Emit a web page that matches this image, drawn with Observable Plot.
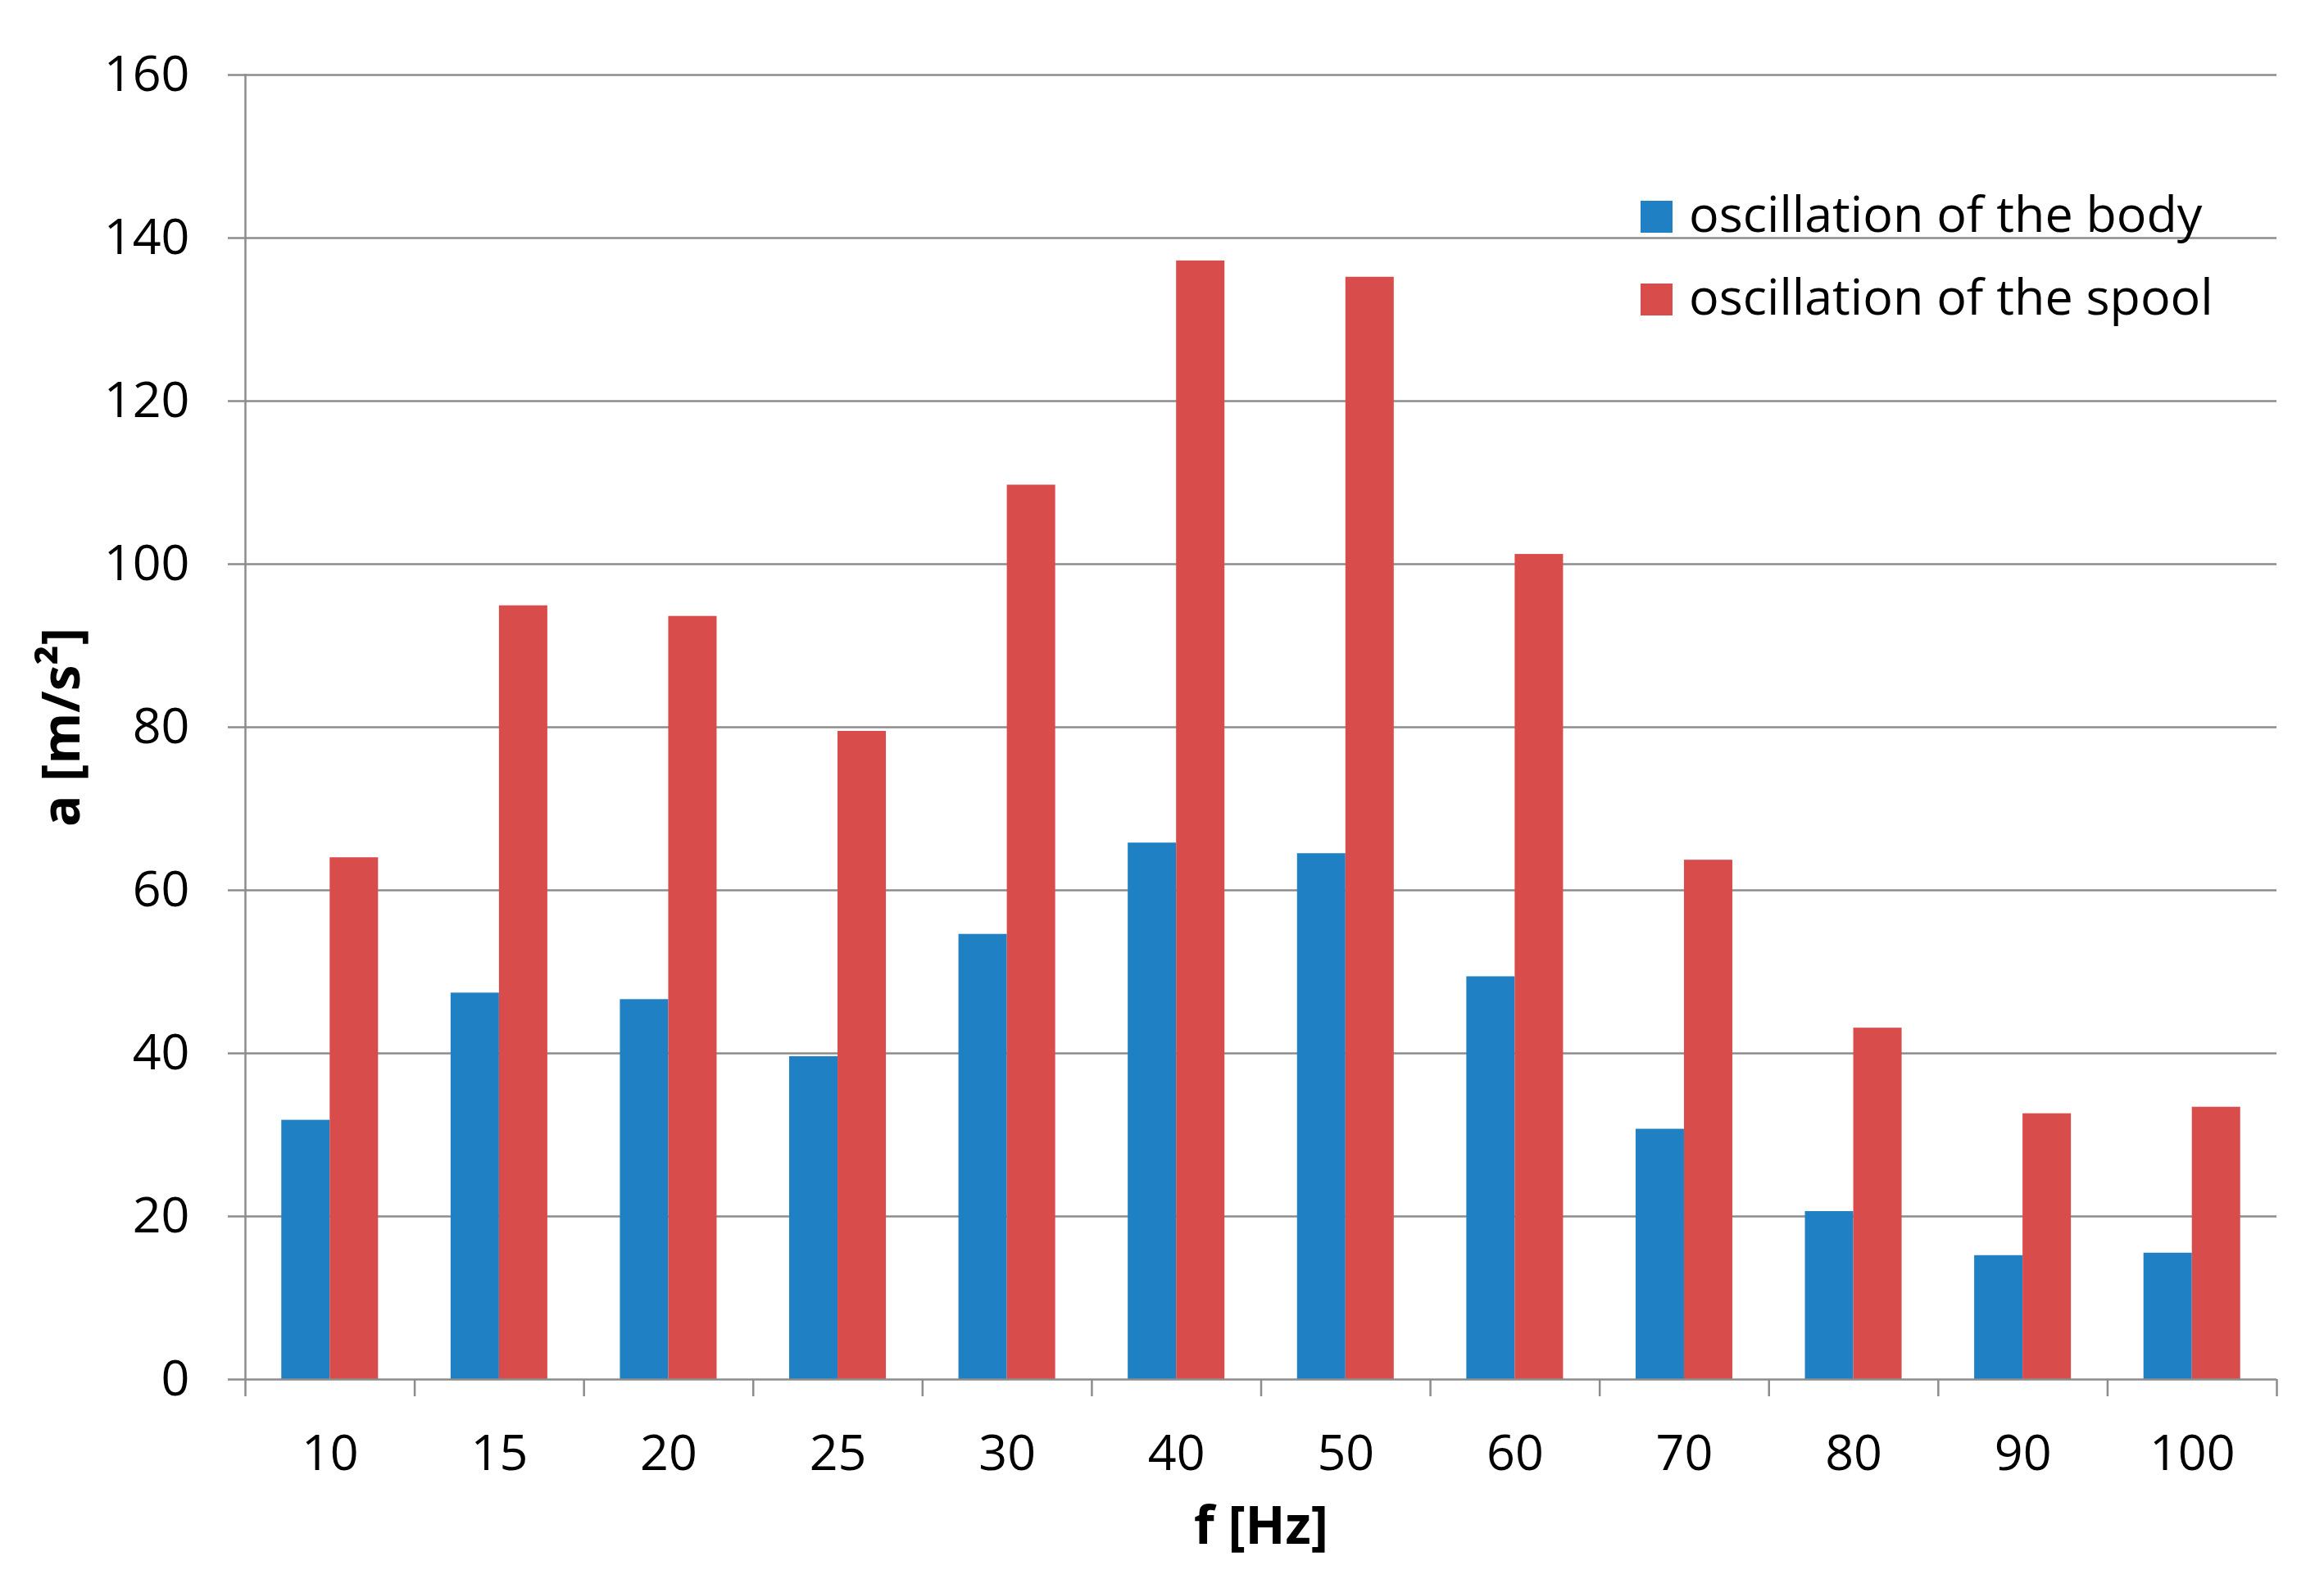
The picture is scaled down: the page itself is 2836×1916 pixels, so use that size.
<!DOCTYPE html>
<html>
<head>
<meta charset="utf-8">
<script src="https://cdn.jsdelivr.net/npm/d3@7"></script>
<script src="https://cdn.jsdelivr.net/npm/@observablehq/plot@0.6"></script>
<style>
  html, body { margin: 0; padding: 0; background: #fff; }
  #wrap { position: relative; width: 2836px; height: 1916px; font-family: "Open Sans", sans-serif; }
  #legend { position: absolute; left: 2002px; top: 245px; }
  .row { display: flex; align-items: center; height: 39px; margin-bottom: 62px; }
  .sw { width: 39px; height: 39px; }
  .lbl { margin-left: 20px; font-size: 61px; line-height: 1; color: #000; white-space: nowrap; position: relative; top: -5px; }
</style>
</head>
<body>
<div id="wrap"></div>
<script>
const frequencies = ["10", "15", "20", "25", "30", "40", "50", "60", "70", "80", "90", "100"];
const bodyValues  = [31.8, 47.4, 46.6, 39.6, 54.6, 65.8, 64.5, 49.4, 30.7, 20.6, 15.2, 15.5];
const spoolValues = [64.0, 94.9, 93.6, 79.5, 109.7, 137.2, 135.2, 101.2, 63.7, 43.1, 32.6, 33.4];
const seriesNames = ["oscillation of the body", "oscillation of the spool"];
const seriesColors = ["#1f80c4", "#d94c4c"];
const yTicks = [0, 20, 40, 60, 80, 100, 120, 140, 160];
const xTitle = "f [Hz]";
const yTitle = "a [m/s²]";

const data = frequencies.map((f, i) => ({f, body: bodyValues[i], spool: spoolValues[i]}));

const W = 2836, H = 1916;
const mL = 299, mR = 58, mT = 91, mB = 233;
const padInner = 1.5 / 3.5, padOuter = padInner / 2;
const step = (W - mL - mR) / frequencies.length;
const bw = step * (1 - padInner);
const gridColor = "#8c8c8c";

const chart = Plot.plot({
  width: W,
  height: H,
  marginLeft: mL,
  marginRight: mR,
  marginTop: mT,
  marginBottom: mB,
  style: {fontFamily: "'Open Sans', sans-serif", fontSize: "61px", color: "#000", background: "#fff"},
  x: {domain: frequencies, paddingInner: padInner, paddingOuter: padOuter, round: false, axis: null},
  y: {domain: [0, 160], axis: null},
  marks: [
    Plot.gridY(yTicks.filter(t => t > 0), {stroke: gridColor, strokeOpacity: 1, strokeWidth: 2.5}),
    Plot.barY(data, {x: "f", y: "body", fill: seriesColors[0], insetRight: bw / 2}),
    Plot.barY(data, {x: "f", y: "spool", fill: seriesColors[1], insetLeft: bw / 2}),
    Plot.ruleY([0], {stroke: gridColor, strokeWidth: 2.5}),
    Plot.frame({anchor: "left", stroke: gridColor, strokeWidth: 2.5}),
    Plot.axisY({ticks: yTicks, tickSize: 21, tickPadding: 47, stroke: gridColor, strokeWidth: 2.5, strokeOpacity: 1, label: null, fontSize: 61}),
    Plot.axisX({tickSize: 0, tickPadding: 67, label: null, fontSize: 61}),
    Plot.axisX({tickSize: 21, tickFormat: () => "", dx: -step / 2, stroke: gridColor, strokeWidth: 2.5, strokeOpacity: 1, label: null}),
    Plot.axisX({ticks: [frequencies[frequencies.length - 1]], tickSize: 21, tickFormat: () => "", dx: step / 2, stroke: gridColor, strokeWidth: 2.5, strokeOpacity: 1, label: null}),
    Plot.text([xTitle], {frameAnchor: "bottom", dy: 200, fontWeight: "bold", fontSize: 64, fill: "#000"}),
    Plot.text([yTitle], {frameAnchor: "left", textAnchor: "middle", dx: -223, rotate: -90, fontWeight: "bold", fontSize: 64, fill: "#000"})
  ]
});

const wrap = document.getElementById("wrap");
wrap.appendChild(chart);

const legend = document.createElement("div");
legend.id = "legend";
seriesNames.forEach((name, i) => {
  const row = document.createElement("div");
  row.className = "row";
  const sw = document.createElement("div");
  sw.className = "sw";
  sw.style.background = seriesColors[i];
  const lbl = document.createElement("span");
  lbl.className = "lbl";
  lbl.textContent = name;
  row.appendChild(sw);
  row.appendChild(lbl);
  legend.appendChild(row);
});
wrap.appendChild(legend);
</script>
</body>
</html>
